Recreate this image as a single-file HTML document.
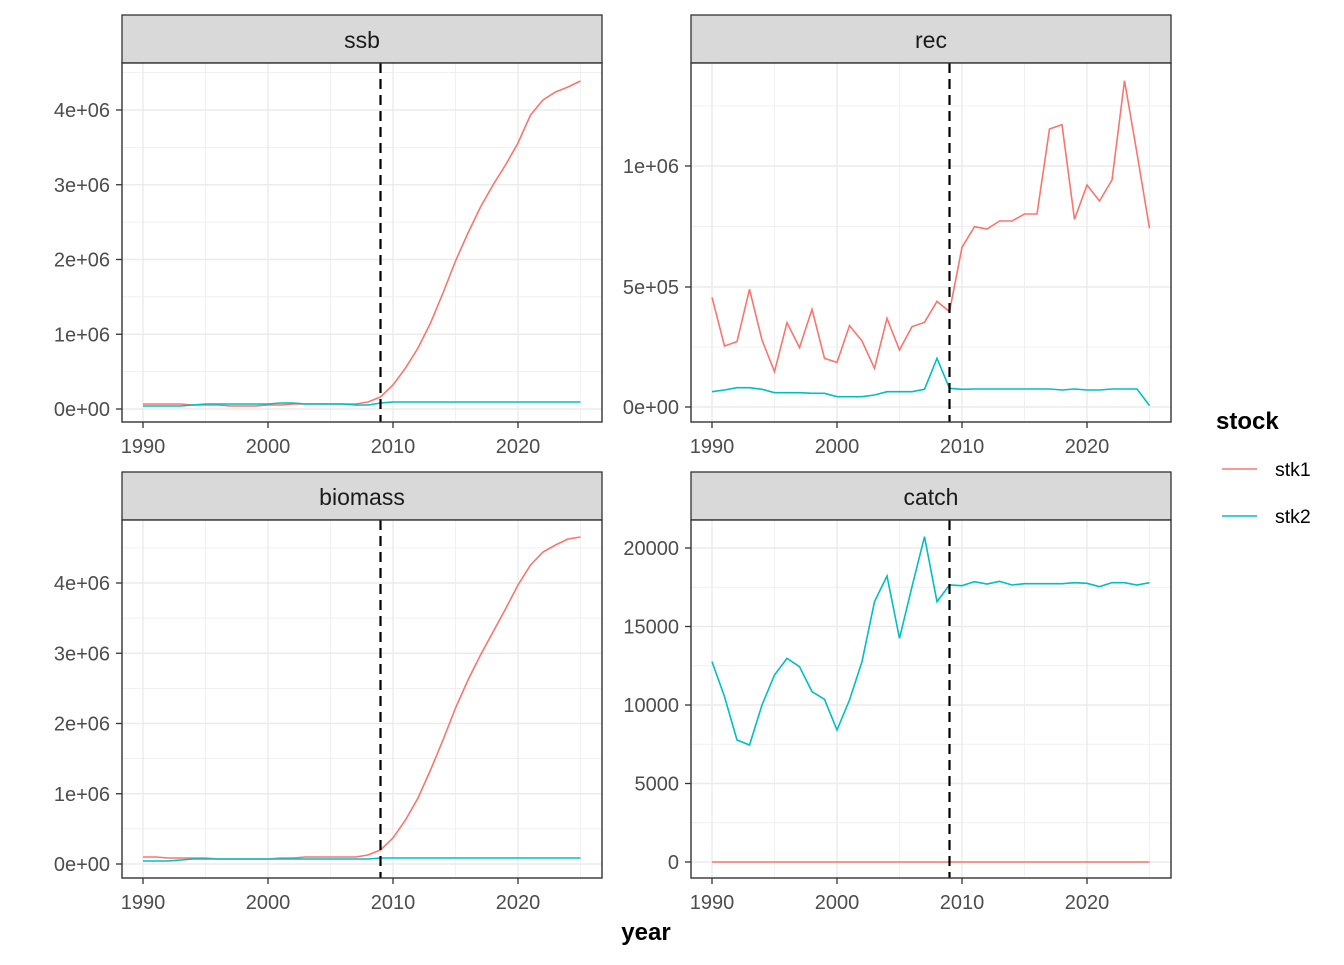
<!DOCTYPE html>
<html><head><meta charset="utf-8"><style>
html,body{margin:0;padding:0;background:#fff;}
svg text{font-family:"Liberation Sans",Arial,sans-serif;}
</style></head><body>
<svg id="s" width="1344" height="960" xmlns="http://www.w3.org/2000/svg"></svg>
<script>
const S=document.getElementById('s');let h='';
function yr2x(x0,y){return x0+(y-1990)*12.5;}
function panel(o){
 const {L,R,T,B,x0,title,maj,min,labs}=o;
 h+=`<rect x="${L}" y="${T-48}" width="${R-L}" height="48" fill="#d9d9d9" stroke="#333" stroke-width="1.3"/>`;
 h+=`<text x="${(L+R)/2}" y="${T-15}" font-size="23" text-anchor="middle" fill="#1a1a1a">${title}</text>`;
 h+=`<rect x="${L}" y="${T}" width="${R-L}" height="${B-T}" fill="#fff"/>`;
 for(const y of min)h+=`<line x1="${L}" x2="${R}" y1="${y}" y2="${y}" stroke="#ebebeb" stroke-width="0.7"/>`;
 for(const yy of [1995,2005,2015,2025])h+=`<line y1="${T}" y2="${B}" x1="${yr2x(x0,yy)}" x2="${yr2x(x0,yy)}" stroke="#ebebeb" stroke-width="0.7"/>`;
 maj.forEach((y,i)=>{h+=`<line x1="${L}" x2="${R}" y1="${y}" y2="${y}" stroke="#ebebeb" stroke-width="1.4"/>`;
  h+=`<line x1="${L-6}" x2="${L}" y1="${y}" y2="${y}" stroke="#333" stroke-width="1.3"/>`;
  h+=`<text x="${L-12}" y="${y+7}" font-size="20" text-anchor="end" fill="#4d4d4d">${labs[i]}</text>`;});
 for(const yy of [1990,2000,2010,2020]){const x=yr2x(x0,yy);
  h+=`<line y1="${T}" y2="${B}" x1="${x}" x2="${x}" stroke="#ebebeb" stroke-width="1.4"/>`;
  h+=`<line y1="${B}" y2="${B+6}" x1="${x}" x2="${x}" stroke="#333" stroke-width="1.3"/>`;
  h+=`<text x="${x}" y="${B+31}" font-size="20" text-anchor="middle" fill="#4d4d4d">${yy}</text>`;}
 for(const s of o.series){h+=`<polyline fill="none" stroke="${s.c}" stroke-width="1.6" points="${s.y.map((v,i)=>yr2x(x0,1990+i)+','+v).join(' ')}"/>`;}
 const dx=yr2x(x0,2009);
 h+=`<line x1="${dx}" x2="${dx}" y1="${T}" y2="${B}" stroke="#000" stroke-width="2.2" stroke-dasharray="10,6"/>`;
 h+=`<rect x="${L}" y="${T}" width="${R-L}" height="${B-T}" fill="none" stroke="#333" stroke-width="1.4"/>`;
}
const R1='#f8766d',C2='#00bfc4';
function half(a){const r=[];for(let i=0;i<a.length-1;i++)r.push((a[i]+a[i+1])/2);return r;}
let sm=[409,334.25,259.5,184.75,110];
let ssb1=[404,404,404,404,405,405,405,406,406,406,405,405,404,404,404,404,404,404,402,397,385,368,348,323,293,261,233,207,185,165,143,115,100,92,87,81];
let ssb2=[406,406,406,406,405,404,404,404,404,404,404,403,403,404,404,404,404,405,405,403,402,402,402,402,402,402,402,402,402,402,402,402,402,402,402,402];
panel({L:122,R:602,T:63,B:422,x0:143,title:'ssb',maj:sm,min:[...half(sm),72.6],labs:['0e+00','1e+06','2e+06','3e+06','4e+06'],series:[{c:R1,y:ssb1},{c:C2,y:ssb2}]});
const rz1=[712,858,845,688,840,935,788,863,748,895,907,797,843,925,775,870,800,787,724,755,562,500,507,483,483,462,462,207,194,478,375,423,360,62,280,505];
const rz2=[995,990,983,983,988,998,998,998,1000,1000,1010,1010,1010,1005,995,995,995,988,895,985,988,987,987,987,987,987,987,987,990,987,990,990,987,987,987,1037];
let rm=[407,287,166];
panel({L:691,R:1171,T:63,B:422,x0:712,title:'rec',maj:rm,min:[347,226.5,106],labs:['0e+00','5e+05','1e+06'],series:[{c:R1,y:rz1.map(v=>60+v/3)},{c:C2,y:rz2.map(v=>60+v/3)}]});
let bm=[864,793.75,723.5,653.25,583];
let b1=[857,857,858,858,858,858,859,859,859,859,859,858,858,857,857,857,857,857,855,850,838,820,798,770,740,708,680,655,632,609,585,565,552,545,539,537];
let b2=[861,861,861,860,859,859,859,859,859,859,859,859,859,859,859,859,859,859,859,858,858,858,858,858,858,858,858,858,858,858,858,858,858,858,858,858];
panel({L:122,R:602,T:520,B:878,x0:143,title:'biomass',maj:bm,min:[...half(bm),547.9],labs:['0e+00','1e+06','2e+06','3e+06','4e+06'],series:[{c:R1,y:b1},{c:C2,y:b2}]});
const cz=[425,530,660,675,555,465,415,440,515,538,630,540,425,245,168,355,200,50,245,195,197,185,192,184,195,191,191,191,191,188,190,200,188,188,195,188];
let cm=[862,783.5,705,626.5,548];
panel({L:691,R:1171,T:520,B:878,x0:712,title:'catch',maj:cm,min:half(cm),labs:['0','5000','10000','15000','20000'],series:[{c:R1,y:cz.map(()=>862)},{c:C2,y:cz.map(v=>520+v/3)}]});
h+=`<text x="1216" y="429" font-size="24" font-weight="bold" fill="#000">stock</text>`;
h+=`<line x1="1222" x2="1257" y1="469" y2="469" stroke="${R1}" stroke-width="1.6"/><text x="1275" y="476" font-size="19.5" fill="#000">stk1</text>`;
h+=`<line x1="1222" x2="1257" y1="516" y2="516" stroke="${C2}" stroke-width="1.6"/><text x="1275" y="523" font-size="19.5" fill="#000">stk2</text>`;
h+=`<text x="646" y="940" font-size="24" font-weight="bold" text-anchor="middle" fill="#000">year</text>`;
S.innerHTML=h;
</script>
</body></html>
